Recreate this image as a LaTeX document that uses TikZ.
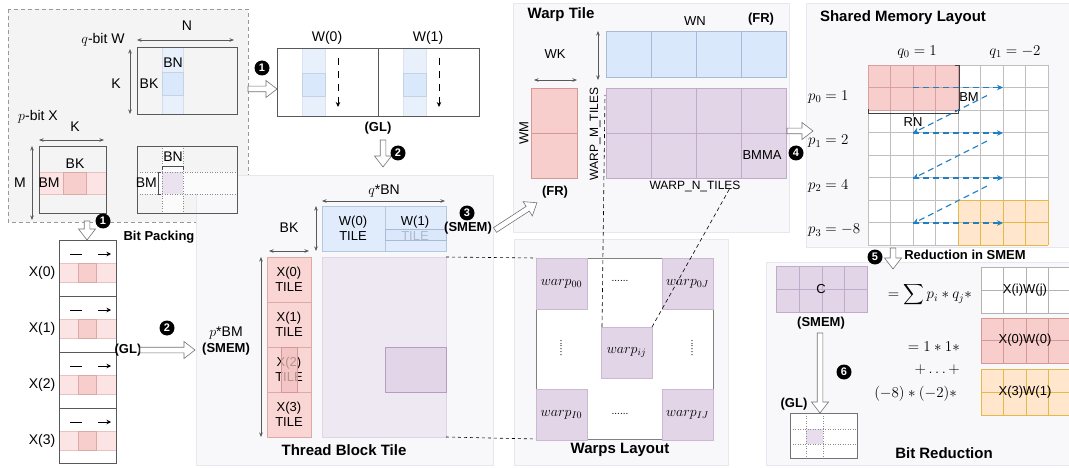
\RequirePackage{fix-cm}
\documentclass[tikz,border=0pt]{standalone}
\usepackage{exscale}
\usepackage{fontspec}
\setmainfont{Liberation Sans}
\usetikzlibrary{arrows.meta}
\definecolor{redF}{HTML}{F8CECC}
\definecolor{redD}{HTML}{B85450}
\definecolor{redL}{HTML}{FBE4E3}
\definecolor{blueF}{HTML}{DAE8FC}
\definecolor{blueD}{HTML}{6C8EBF}
\definecolor{blueL}{HTML}{E8F0FB}
\definecolor{purF}{HTML}{E1D5E7}
\definecolor{purD}{HTML}{9673A6}
\definecolor{oraF}{HTML}{FFE6CC}
\definecolor{oraD}{HTML}{D79B00}
\definecolor{panelF}{HTML}{F8F7FA}
\definecolor{panelD}{HTML}{E8E6EE}
\definecolor{gboxF}{HTML}{F4F4F4}
\definecolor{arrblue}{HTML}{1F7FC4}
\newcommand{\blockarr}[4]{%
  \begin{scope}[shift={(#1,#2)},rotate=#3]
    \draw[barrow] (0,-2.8) -- ({#4-11},-2.8) -- ({#4-11},-8.5) -- (#4,0) -- ({#4-11},8.5) -- ({#4-11},2.8) -- (0,2.8) -- cycle;
  \end{scope}}
\begin{document}
\begin{tikzpicture}[x=1pt,y=-1pt,
  lbl/.style={font=\fontsize{13}{15}\selectfont, inner sep=0pt},
  lblL/.style={font=\fontsize{14}{16}\selectfont, inner sep=0pt},
  blbl/.style={font=\fontsize{13}{15}\selectfont\bfseries, inner sep=0pt},
  ttl/.style={font=\fontsize{15}{17}\selectfont\bfseries, inner sep=0pt},
  mth/.style={font=\fontsize{15}{17}\selectfont, inner sep=0pt},
  dimarr/.style={draw=black!65, line width=0.6pt, {Stealth[length=4.5pt,width=3.5pt]}-{Stealth[length=4.5pt,width=3.5pt]}},
  num/.style={circle, fill=black, text=white, font=\fontsize{11}{11}\selectfont\bfseries, inner sep=0pt, minimum size=15pt},
  panelbox/.style={fill=panelF, draw=panelD, line width=0.5pt},
  barrow/.style={draw=black!55, fill=white, line width=0.6pt, line join=miter},
  mat/.style={draw=black!65, line width=0.7pt},
  dotl/.style={draw=black!45, dotted, line width=0.5pt},
  blk/.style={draw=black, dashed, line width=0.6pt},
  bluearr/.style={draw=arrblue, line width=1.1pt, dash pattern=on 6pt off 4pt, -{Stealth[length=6pt,width=5.5pt]}},
]
\useasboundingbox[fill=white] (0,0) rectangle (1069,468);

% ---------------- panels ----------------
\draw[fill=gboxF, draw=black!40, dash pattern=on 4pt off 3pt, line width=0.6pt] (8,9) rectangle (248,222);
\draw[panelbox] (196,175) rectangle (493,465);
\draw[panelbox] (513,3) rectangle (789,232);
\draw[panelbox] (514,239) rectangle (728,465);
\draw[panelbox] (806,3) rectangle (1070,247);
\draw[panelbox] (766,262) rectangle (1070,465);

% ---------------- top-left: q-bit W ----------------
\fill[blueL] (162,47) rectangle (183,114);
\draw[blueD!30] (162,47) rectangle (183,114);
\draw[fill=blueF, draw=blueD!40] (162,72) rectangle (183,95);
\draw[mat] (137,47) rectangle (237,114);
\node[lblL] (tN) at (187,26) {N};
\node[lblL] (tqW) at (103,40) {$q$-bit W};
\node[lblL] (tKw) at (116,84) {K};
\node[lblL] (tBKw) at (149,84) {BK};
\node[lblL] (tBNw) at (173,63) {BN};
\draw[dimarr] (137,40) -- (234,40);
\draw[dimarr] (130,49) -- (130,114);

% p-bit X
\draw[fill=redL, draw=redD!35] (39,172) rectangle (106,194);
\draw[fill=redF, draw=redD!50] (63,172) rectangle (86,194);
\draw[mat] (39,146) rectangle (106,213);
\node[lblL] (tpX) at (38,117) {$p$-bit X};
\node[lblL] (tKx) at (75,127) {K};
\node[lblL] (tBKx) at (75,164) {BK};
\node[lblL] (tBMx) at (49,183) {BM};
\node[lblL] (tM) at (20,183) {M};
\draw[dimarr] (39,140) -- (104,140);
\draw[dimarr] (32,146) -- (32,220);

% mini C
\fill[white!60!gboxF] (162,146) rectangle (183,213);
\fill[white!60!gboxF] (137,172) rectangle (237,194);
\fill[purF!70] (162,172) rectangle (183,194);
\draw[dotl] (162,146)--(162,213) (183,146)--(183,213) (137,172)--(237,172) (137,194)--(237,194);
\draw[mat] (137,146) rectangle (237,213);
\draw[black!70] (162,170)--(162,166)--(183,166)--(183,170);
\node[lblL] (tBNc) at (173,157) {BN};
\draw[black!70] (161,172)--(158,172)--(158,194)--(161,194);
\node[lblL, anchor=east] (tBMc) at (157,183) {BM};

% ---------------- bit packing ----------------
\foreach \t/\k in {240/0,296/1,352/2,408/3} {
  \draw[fill=redL, draw=redD!35] (59,\t+23) rectangle (116,\t+42);
  \draw[fill=redF, draw=redD!50] (78,\t+23) rectangle (96,\t+42);
  \draw[black, line width=0.8pt] (70,\t+14)--(82,\t+14);
  \draw[black, line width=0.8pt, -{Stealth[length=4.5pt,width=4.5pt]}] (98,\t+14)--(111,\t+14);
  \node[lblL] (xp\k) at (42,\t+32.5) {X(\k)};
}
\draw[mat] (59,240) rectangle (116,463);
\foreach \y in {296,352,408} \draw[mat] (59,\y)--(116,\y);
\node[blbl] (tBitPack) at (159,237) {Bit Packing};
\blockarr{87}{221}{-90}{19}
\node[num] (n1a) at (103,221) {1};
\node[blbl] (tGL1) at (128,350) {(GL)};
\blockarr{140}{350}{0}{55}
\node[num] (n2a) at (167,328) {2};

% ---------------- W(0) W(1) in GL ----------------
\blockarr{248}{89}{0}{29}
\node[num] (n1b) at (262,68) {1};
\foreach \c in {302,403} {
  \fill[blueL] (\c,48) rectangle (\c+23,116);
  \draw[blueD!25] (\c,48) rectangle (\c+23,116);
  \draw[fill=blueF, draw=blueD!40] (\c,73) rectangle (\c+23,96);
}
\draw[mat] (277,48) rectangle (479,116);
\draw[mat] (378,48) -- (378,116);
\foreach \c in {338,439}
  \draw[black, line width=0.8pt, dash pattern=on 7pt off 6pt, -{Stealth[length=5pt,width=4.5pt]}] (\c,58) -- (\c,107);
\node[lblL] (tW0) at (327,38) {W(0)};
\node[lblL] (tW1) at (428,38) {W(1)};
\node[blbl] (tGL2) at (378,128) {(GL)};
\blockarr{383}{140}{-90}{27}
\node[num] (n2b) at (398,153) {2};

% ---------------- Thread Block Tile ----------------
\node[lblL] (tqBN) at (384,191) {$q$*BN};
\draw[dimarr] (322,201) -- (445,201);
\draw[fill=blueF!85, draw=blueD!50] (322,206) rectangle (446,251);
\draw[draw=blueD!50] (385,206) -- (385,251);
\node[lbl, align=center] (tW0t) at (353,228) {W(0)\\TILE};
\node[lbl, align=center] (tW1t) at (415,228) {W(1)\\TILE};
\draw[fill=blueF, fill opacity=0.8, draw=blueD!60] (385,229) rectangle (446,240);
\node[lblL] (tBKt) at (289,228) {BK};
\draw[dimarr] (269,251) -- (309,251);
\draw[dimarr] (316,206) -- (316,251);
\draw[fill=redF!85, draw=redD!50] (267,257) rectangle (311,437);
\foreach \y in {302,347,392} \draw[redD!50] (267,\y) -- (311,\y);
\foreach \k in {0,1,2,3}
  \node[lbl, align=center] (tX\k t) at (289,{279.5+45*\k}) {X(\k)\\TILE};
\draw[fill=redF!90!redD, fill opacity=0.75, draw=redD!60] (281,347) rectangle (297,392);
\node[lblL] (tpBM) at (226,333) {$p$*BM};
\node[blbl] (tSMEM1) at (226,349) {(SMEM)};
\draw[dimarr] (261,257) -- (261,437);
\draw[fill=purF!55, draw=purD!30] (322,257) rectangle (446,437);
\draw[fill=purF, draw=purD!70] (385,347) rectangle (446,392);
\node[ttl] (tTBT) at (344,450) {Thread Block Tile};
\draw[blk] (446,257) -- (536,258);
\draw[blk] (446,437) -- (536,439);
\node[num] (n3) at (467,213) {3};
\node[blbl] (tSMEM2) at (468,228) {(SMEM)};
\blockarr{495}{230}{33}{50}

% ---------------- Warp Tile ----------------
\node[ttl] (tWT) at (561,15) {Warp Tile};
\node[lbl] (tWN) at (695,21) {WN};
\node[blbl] (tFR1) at (761,19) {(FR)};
\draw[fill=blueF, draw=blueD!60] (606,31) rectangle (786,77);
\foreach \x in {651,696,741} \draw[blueD!60] (\x,31) -- (\x,77);
\draw[dimarr] (598,31) -- (598,80);
\draw[fill=purF, draw=purD!60] (606,88) rectangle (786,178);
\draw[purD!60] (606,133) -- (786,133);
\foreach \x in {651,696,741} \draw[purD!60] (\x,88) -- (\x,178);
\node[font=\fontsize{12}{14}\selectfont, inner sep=0pt, rotate=90] (tWMT) at (595,134) {WARP\_M\_TILES};
\node[font=\fontsize{12}{14}\selectfont, inner sep=0pt] (tWNT) at (695,187) {WARP\_N\_TILES};
\node[lbl] (tBMMA) at (762,155) {BMMA};
\node[lbl] (tWK) at (555,54) {WK};
\draw[dimarr] (534,80) -- (577,80);
\draw[fill=redF, draw=redD!60] (531,88) rectangle (577,178);
\draw[redD!60] (531,133) -- (577,133);
\node[lbl, rotate=90] (tWM) at (524,133) {WM};
\node[blbl] (tFR2) at (555,192) {(FR)};
\blockarr{787}{131}{0}{26}
\node[num] (n4) at (796,153) {4};

% ---------------- Warps Layout ----------------
\draw[fill=white, draw=black!50, line width=0.7pt] (536,258) rectangle (713,439);
\foreach \x/\y/\n in {536/258/{00},662/258/{0J},536/389/{I0},662/389/{IJ},601/327/{ij}} {
  \draw[fill=purF, draw=purD!50] (\x,\y) rectangle (\x+51,\y+51);
  \node[mth, font=\fontsize{14}{16}\selectfont] (w\n) at (\x+25.5,\y+25.5) {$warp_{\n}$};
}
\node[font=\fontsize{10}{10}\selectfont, inner sep=0pt] (dtop) at (620,281) {......};
\node[font=\fontsize{10}{10}\selectfont, inner sep=0pt] (dbot) at (620,414) {......};
\node[font=\fontsize{10}{10}\selectfont, inner sep=0pt, rotate=90] (dl) at (561,348) {......};
\node[font=\fontsize{10}{10}\selectfont, inner sep=0pt, rotate=90] (dr) at (692,348) {......};
\draw[blk, dash pattern=on 4pt off 3pt] (602,327) -- (605,95);
\draw[blk, dash pattern=on 4pt off 3pt] (652,327) -- (730,188);
\node[ttl] (tWL) at (620,450) {Warps Layout};

% ---------------- Shared Memory Layout ----------------
\node[ttl] (tSML) at (903,18) {Shared Memory Layout};
\node[mth] (tq0) at (917,52) {$q_0=1$};
\node[mth] (tq1) at (1015,52) {$q_1=-2$};
\fill[white] (868,65) rectangle (1048,245);
\foreach \i in {0,...,8} {
  \draw[black!25] ({868+22.5*\i},65) -- ({868+22.5*\i},245);
  \draw[black!25] (868,{65+22.5*\i}) -- (1048,{65+22.5*\i});
}
\fill[redF] (868,65) rectangle (958,110);
\foreach \i in {0,...,4} \draw[redD!55] ({868+22.5*\i},65) -- ({868+22.5*\i},110);
\foreach \j in {0,1,2} \draw[redD!55] (868,{65+22.5*\j}) -- (958,{65+22.5*\j});
\fill[oraF] (958,200) rectangle (1048,245);
\foreach \i in {0,...,4} \draw[oraD!70] ({958+22.5*\i},200) -- ({958+22.5*\i},245);
\foreach \j in {0,1,2} \draw[oraD!70] (958,{200+22.5*\j}) -- (1048,{200+22.5*\j});
\foreach \k/\v in {0/1,1/2,2/4,3/-8}
  \node[mth, anchor=west] (tp\k) at (808,{97+44.5*\k}) {$p_\k=\v$};
\draw[black!75] (955,65)--(959,65)--(959,110)--(955,110);
\node[lbl] (tBMs) at (969,97) {BM};
\draw[black!75] (868,109)--(868,113)--(958,113)--(958,109);
\draw[black!75] (913,113)--(913,116);
\node[lbl] (tRN) at (913,122) {RN};
\foreach \y in {87.5,133,178,223}
  \draw[bluearr] (913,\y) -- (1003,\y);
\foreach \y in {87.5,133,178}
  \draw[bluearr, shorten <=18pt] (1003,\y) -- (913,{\y+45.5});
\node[num] (n5) at (875,257) {5};
\blockarr{893}{248}{-90}{21}
\node[blbl] (tRed) at (965,255) {Reduction in SMEM};

% ---------------- Bit Reduction ----------------
\draw[fill=purF, draw=purD!60] (776,266) rectangle (867,312);
\foreach \x in {799,822,844} \draw[purD!60] (\x,266) -- (\x,312);
\draw[purD!60] (776,289) -- (867,289);
\node[lbl] (tC) at (821,289) {C};
\node[blbl] (tSMEM3) at (821,323) {(SMEM)};
\blockarr{820}{333}{-90}{80}
\node[num] (n6) at (844,372) {6};
\node[blbl] (tGL3) at (794,404) {(GL)};
\fill[white] (790,413) rectangle (857,458);
\fill[purF!80] (806,429) rectangle (823,444);
\draw[dotl] (806,413)--(806,458) (823,413)--(823,458) (790,429)--(857,429) (790,444)--(857,444);
\draw[draw=black!55, line width=0.7pt] (790,413) rectangle (857,458);
\node[mth, anchor=east] (teq1) at (972,295) {$\displaystyle =\sum p_i * q_j *$};
\node[mth, anchor=east] (teq2) at (960,347) {$=1*1*$};
\node[mth, anchor=east] (teq3) at (960,370) {$+\ldots+$};
\node[mth, anchor=east] (teq4) at (957,394) {$(-8)*(-2)*$};
\draw[fill=white, draw=black!30] (981,267) rectangle (1071,313);
\foreach \x in {1003,1026,1048} \draw[black!30] (\x,267) -- (\x,313);
\draw[black!30] (981,290) -- (1071,290);
\node[lbl] (tXW) at (1025,290) {X(i)W(j)};
\draw[fill=redF, draw=redD!60] (981,318) rectangle (1071,363);
\foreach \x in {1003,1026,1048} \draw[redD!60] (\x,318) -- (\x,363);
\draw[redD!60] (981,340.5) -- (1071,340.5);
\node[lbl] (tX0W0) at (1025,340.5) {X(0)W(0)};
\draw[fill=oraF, draw=oraD!70] (981,369) rectangle (1071,415);
\foreach \x in {1003,1026,1048} \draw[oraD!70] (\x,369) -- (\x,415);
\draw[oraD!70] (981,392) -- (1071,392);
\node[lbl] (tX3W1) at (1025,392) {X(3)W(1)};
\node[ttl] (tBR) at (944,453) {Bit Reduction};
\end{tikzpicture}
\end{document}
